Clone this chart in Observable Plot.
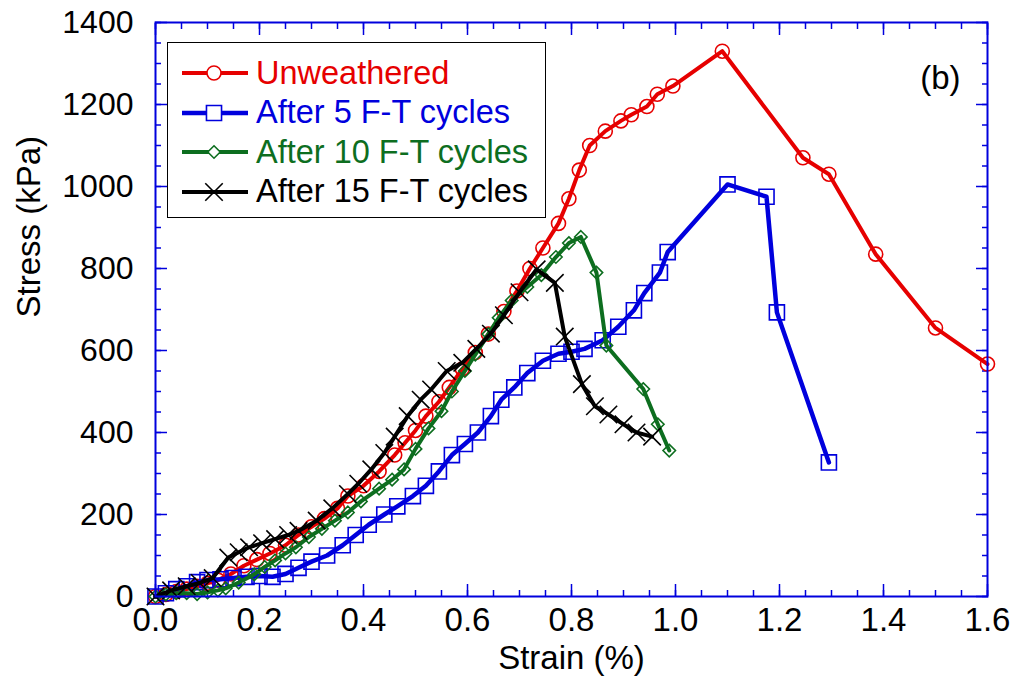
<!DOCTYPE html>
<html>
<head>
<meta charset="utf-8">
<script src="https://cdn.jsdelivr.net/npm/d3@7"></script>
<script src="https://cdn.jsdelivr.net/npm/@observablehq/plot@0.6"></script>
<style>
  html, body { margin: 0; padding: 0; background: #fff; }
  #wrap { position: relative; width: 1012px; height: 679px; font-family: "Liberation Sans", Arial, sans-serif; }
  #legend { position: absolute; left: 167px; top: 42px; width: 379px; height: 176px; border: 1.5px solid #000; background: #fff; box-sizing: border-box; }
  .row { position: absolute; left: 0; height: 36px; display: flex; align-items: center; }
  .row svg { margin-left: 14px; }
  .row span { font-size: 32.5px; margin-left: 8px; white-space: nowrap; }
</style>
</head>
<body>
<div id="wrap"></div>
<script>
// ---------- data ----------
const seriesNames = ["Unweathered", "After 5 F-T cycles", "After 10 F-T cycles", "After 15 F-T cycles"];
const seriesColors = ["#e60000", "#0000dd", "#0d6e1f", "#000000"];

const unwStrain = [0,0.02,0.04,0.06,0.08,0.10,0.12,0.145,0.17,0.195,0.22,0.25,0.275,0.30,0.325,0.35,0.37,0.40,0.43,0.46,0.48,0.50,0.52,0.545,0.565,0.59,0.615,0.64,0.67,0.695,0.72,0.745,0.775,0.795,0.815,0.835,0.865,0.895,0.915,0.945,0.965,0.995,1.09,1.245,1.295,1.385,1.50,1.60];
const unwStress = [0,5,12,18,25,32,40,55,75,90,105,125,150,170,190,215,245,270,305,345,375,405,440,475,510,555,595,640,695,745,800,850,910,970,1040,1100,1135,1160,1175,1195,1225,1245,1330,1070,1030,835,655,567];

const ft5Strain = [0,0.02,0.04,0.06,0.08,0.10,0.125,0.15,0.175,0.20,0.225,0.25,0.275,0.30,0.33,0.36,0.385,0.41,0.44,0.465,0.495,0.52,0.545,0.57,0.595,0.62,0.645,0.665,0.69,0.715,0.745,0.775,0.80,0.825,0.86,0.89,0.92,0.94,0.97,0.985,1.10,1.175,1.195,1.295];
const ft5Stress = [0,8,18,25,35,40,42,45,48,50,48,55,70,85,100,125,150,175,200,220,245,270,305,345,372,400,440,480,510,545,575,592,597,604,625,658,698,740,790,840,1005,975,693,327];

const ft10Strain = [0,0.02,0.04,0.06,0.08,0.10,0.12,0.135,0.16,0.19,0.21,0.23,0.25,0.27,0.295,0.32,0.345,0.37,0.395,0.43,0.455,0.478,0.50,0.525,0.55,0.57,0.595,0.615,0.64,0.66,0.685,0.715,0.742,0.77,0.795,0.818,0.848,0.867,0.938,0.966,0.988];
const ft10Stress = [0,5,8,8,6,10,15,20,34,54,72,88,105,120,145,165,185,205,232,263,285,310,360,410,452,500,550,590,640,680,722,755,784,828,862,877,790,612,506,420,356];

const ft15Strain = [0,0.03,0.06,0.085,0.11,0.14,0.16,0.18,0.205,0.23,0.255,0.275,0.31,0.34,0.37,0.39,0.415,0.44,0.46,0.485,0.51,0.53,0.56,0.59,0.617,0.645,0.67,0.70,0.733,0.768,0.787,0.82,0.845,0.871,0.90,0.925,0.955];
const ft15Stress = [0,15,25,33,45,95,108,120,130,140,150,160,185,215,250,275,310,350,390,440,480,505,550,570,604,641,686,742,798,765,634,518,464,444,420,400,390];

const xMajor = [0,0.2,0.4,0.6,0.8,1.0,1.2,1.4,1.6];
const xMinor = d3.range(0, 1.6001, 0.05);
const yMajor = [0,200,400,600,800,1000,1200,1400];
const yMinor = d3.range(0, 1400.1, 50);

// ---------- build ----------
const strainArrays = [unwStrain, ft5Strain, ft10Strain, ft15Strain];
const stressArrays = [unwStress, ft5Stress, ft10Stress, ft15Stress];
const symbols = ["circle", "square", "diamond2", "times"];
const symR = [7, 8.5, 5.6, 8];
const lineW = [4, 4.5, 4, 4];

const rows = strainArrays.map((xs, i) => xs.map((x, j) => ({x, y: stressArrays[i][j], s: seriesNames[i]})));

const axisBlue = "#0000dd";
const font = "'Liberation Sans', Arial, sans-serif";

const marks = [];
rows.forEach((data, i) => {
  marks.push(Plot.line(data, {x: "x", y: "y", stroke: seriesColors[i], strokeWidth: lineW[i], strokeLinejoin: "round", curve: "linear"}));
  marks.push(Plot.dot(data, {x: "x", y: "y", symbol: () => symbols[i], r: symR[i], stroke: seriesColors[i], fill: "none", strokeWidth: 1.6}));
});

const blank = () => "";
const chart = Plot.plot({
  width: 1012,
  height: 679,
  marginLeft: 155,
  marginRight: 25,
  marginTop: 22,
  marginBottom: 83,
  style: {fontFamily: font, background: "#fff"},
  x: {domain: [0, 1.6]},
  y: {domain: [0, 1400]},
  marks: [
    // minor ticks
    Plot.axisX(xMinor, {anchor: "bottom", tickSize: -6, tickFormat: blank, stroke: axisBlue, strokeWidth: 1.5, label: null}),
    Plot.axisX(xMinor, {anchor: "top", tickSize: -6, tickFormat: blank, stroke: axisBlue, strokeWidth: 1.5, label: null}),
    Plot.axisY(yMinor, {anchor: "left", tickSize: -6, tickFormat: blank, stroke: axisBlue, strokeWidth: 1.5, label: null}),
    Plot.axisY(yMinor, {anchor: "right", tickSize: -6, tickFormat: blank, stroke: axisBlue, strokeWidth: 1.5, label: null}),
    // major ticks + labels
    Plot.axisX(xMajor, {anchor: "bottom", tickSize: -12, tickPadding: 23, tickFormat: d => d.toFixed(1), stroke: axisBlue, strokeWidth: 1.5, fontSize: 33, fill: "#000", label: null}),
    Plot.axisX(xMajor, {anchor: "top", tickSize: -12, tickFormat: blank, stroke: axisBlue, strokeWidth: 1.5, label: null}),
    Plot.axisY(yMajor, {anchor: "left", tickSize: -12, tickPadding: 34, tickFormat: d => String(d), stroke: axisBlue, strokeWidth: 1.5, fontSize: 32, fill: "#000", label: null}),
    Plot.axisY(yMajor, {anchor: "right", tickSize: -12, tickFormat: blank, stroke: axisBlue, strokeWidth: 1.5, label: null}),
    ...marks,
    Plot.frame({stroke: axisBlue, strokeWidth: 2}),
    Plot.text(["Strain (%)"], {frameAnchor: "bottom", dy: 62, fontSize: 33, fill: "#000", lineAnchor: "middle"}),
    Plot.text(["Stress (kPa)"], {frameAnchor: "left", dx: -126, dy: 8, rotate: -90, fontSize: 33, fill: "#000", lineAnchor: "middle"}),
    Plot.text(["(b)"], {frameAnchor: "top-right", dx: -27, dy: 56, fontSize: 33, fill: "#000", textAnchor: "end", lineAnchor: "middle"})
  ]
});

const wrap = document.getElementById("wrap");
wrap.appendChild(chart);

// legend overlay
const legend = document.createElement("div");
legend.id = "legend";
const symbolPaths = [d3.symbolCircle, d3.symbolSquare, d3.symbolDiamond2, d3.symbolTimes];
seriesNames.forEach((name, i) => {
  const row = document.createElement("div");
  row.className = "row";
  row.style.top = (12 + i * 39.5) + "px";
  const size = Math.PI * symR[i] * symR[i];
  const path = d3.symbol(symbolPaths[i], size)();
  row.innerHTML = `<svg width="66" height="30" viewBox="0 0 66 30">
    <line x1="0" x2="66" y1="15" y2="15" stroke="${seriesColors[i]}" stroke-width="${lineW[i]}"/>
    <path d="${path}" transform="translate(32,15)" fill="${i === 3 ? 'none' : '#fff'}" stroke="${seriesColors[i]}" stroke-width="1.6"/>
  </svg><span style="color:${seriesColors[i]}">${name}</span>`;
  legend.appendChild(row);
});
wrap.appendChild(legend);
</script>
</body>
</html>
